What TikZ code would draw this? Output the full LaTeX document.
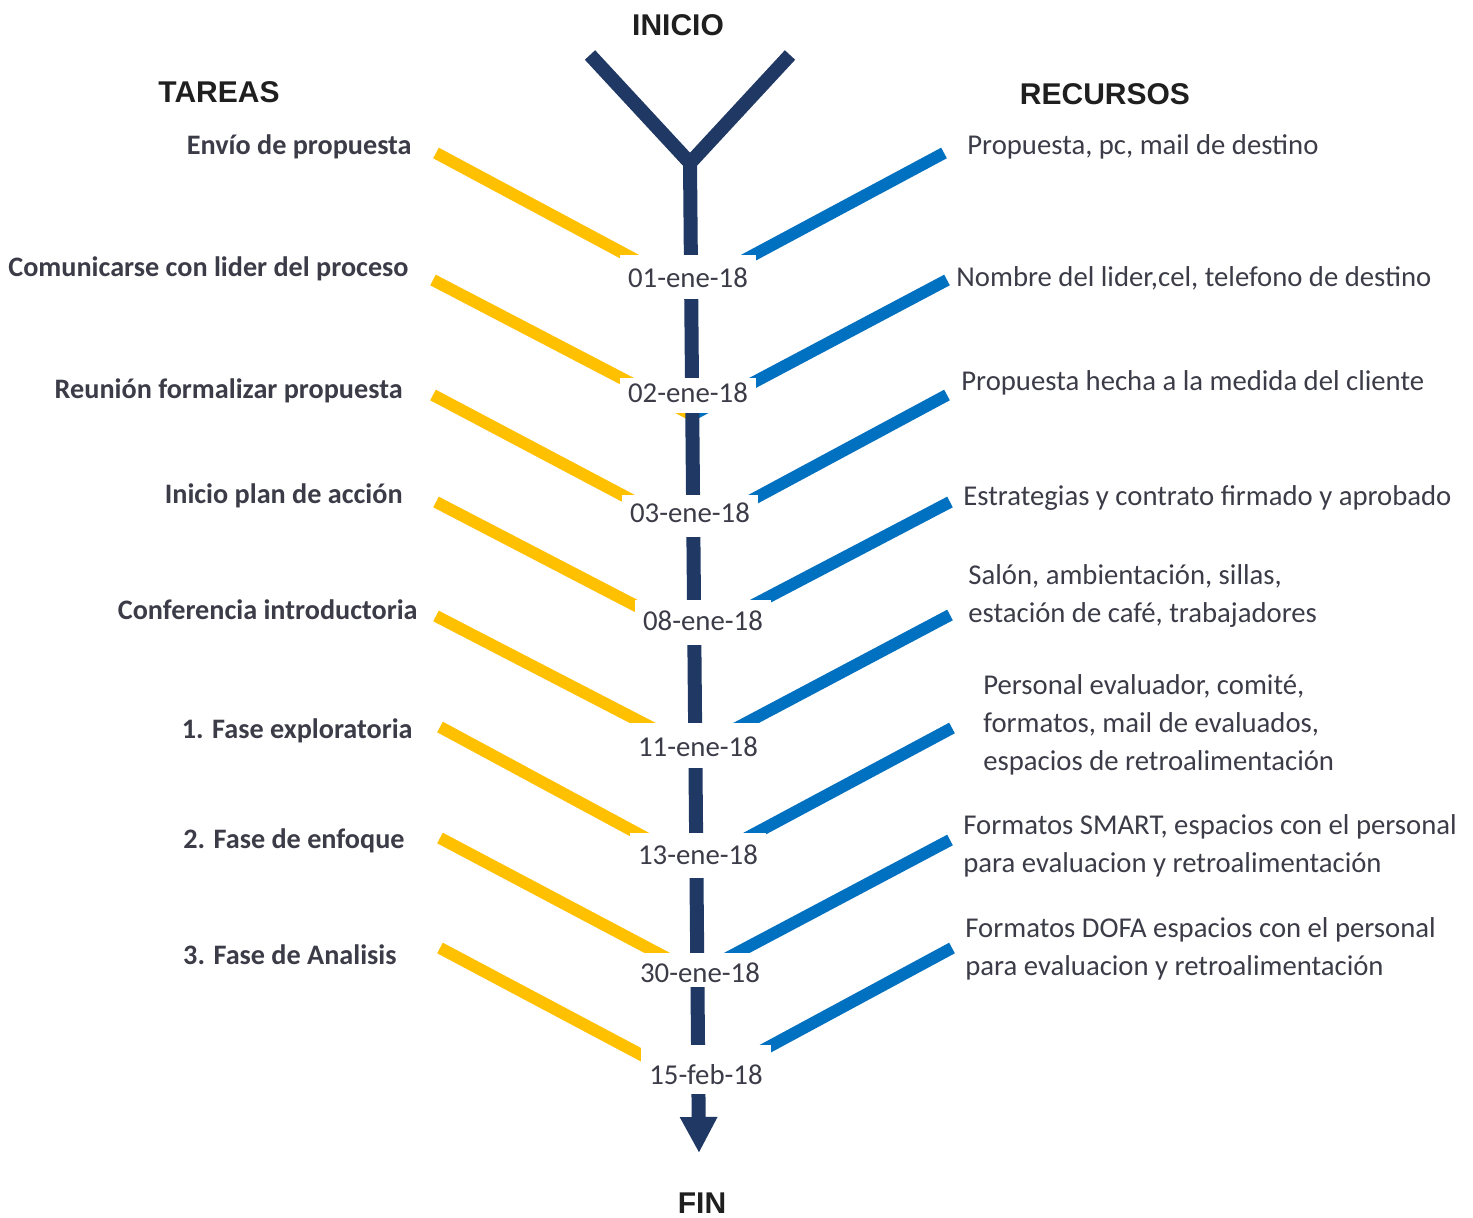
\documentclass[tikz,border=0pt]{standalone}
\usepackage{fontspec}
\setmainfont{Carlito}
\newfontfamily\headfont{Liberation Sans}
\usetikzlibrary{arrows.meta}

\definecolor{cSpine}{HTML}{1F3864}
\definecolor{cTarea}{HTML}{FFC000}
\definecolor{cRecurso}{HTML}{0070C0}
\definecolor{cTexto}{HTML}{3C3C48}

\tikzset{
  heading/.style={font=\headfont\bfseries\fontsize{15}{18}\selectfont, text=black!88, inner sep=0},
  tarealbl/.style={font=\bfseries\fontsize{14.1}{18}\selectfont, text=cTexto, inner sep=0, anchor=mid east},
  recursolbl/.style={font=\fontsize{14.35}{18.9}\selectfont, text=cTexto, inner sep=0, anchor=west, align=left},
  fecha/.style={font=\fontsize{14.4}{16}\selectfont, text=cTexto, fill=white, inner xsep=4pt, inner ysep=0, anchor=base},
  ramaT/.style={draw=cTarea, line width=6pt},
  ramaR/.style={draw=cRecurso, line width=6pt},
  eje/.style={draw=cSpine, line width=7pt},
}

\begin{document}
\begin{tikzpicture}[x=0.5pt, y=-0.5pt]
\useasboundingbox[fill=white] (0,0) rectangle (1473,1218);

% headings
\node[heading] (inicio) at (678,25) {INICIO};
\node[heading] (tareas) at (219,92) {TAREAS};
\node[heading] (recursos) at (1105,94) {RECURSOS};
\node[heading] (fin) at (702,1203) {FIN};

% fork at the top and the end of the spine
\coordinate (armL) at (590,55);
\coordinate (armR) at (790,55);
\coordinate (fork) at (690,163);
\coordinate (tip) at (699,1153);

% meeting points of the branches on the spine
\coordinate (J1) at (690,289);
\coordinate (J2) at (692,415);
\coordinate (J3) at (692,532);
\coordinate (J4) at (694,636);
\coordinate (J5) at (695,750);
\coordinate (J6) at (696,865);
\coordinate (J7) at (697,974);
\coordinate (J8) at (698,1085);

% outer ends of the task (left) branches
\coordinate (T1) at (436,153);
\coordinate (T2) at (433,280);
\coordinate (T3) at (433,395);
\coordinate (T4) at (436,502);
\coordinate (T5) at (436,616);
\coordinate (T6) at (440,727);
\coordinate (T7) at (440,838);
\coordinate (T8) at (440,948);

% outer ends of the resource (right) branches
\coordinate (R1) at (944,153);
\coordinate (R2) at (947,280);
\coordinate (R3) at (947,395);
\coordinate (R4) at (950,502);
\coordinate (R5) at (950,615);
\coordinate (R6) at (952,728);
\coordinate (R7) at (950,840);
\coordinate (R8) at (952,948);

% branches
\foreach \i in {1,...,8} {
  \draw[ramaT] (T\i) -- (J\i);
  \draw[ramaR] (R\i) -- (J\i);
}

% spine
\draw[eje, line join=miter] (armL) -- (fork) -- (armR);
\draw[eje, -{Triangle[width=17.5pt, length=18pt]}] (fork) -- (tip);

% dates on the spine (white boxes cover the joints)
\node[fecha, text height=16.5pt, text depth=5.5pt] (d1) at (688,288) {01-ene-18};
\node[fecha, text height=12.5pt, text depth=5pt]   (d2) at (688,403) {02-ene-18};
\node[fecha, text height=14pt,   text depth=7pt]   (d3) at (690,523) {03-ene-18};
\node[fecha, text height=15.5pt, text depth=7pt]   (d4) at (703,631) {08-ene-18};
\node[fecha, text height=17pt,   text depth=5.5pt] (d5) at (698,757) {11-ene-18};
\node[fecha, text height=15.5pt, text depth=7pt]   (d6) at (698,864) {13-ene-18};
\node[fecha, text height=14.5pt, text depth=2.5pt] (d7) at (700,982) {30-ene-18};
\node[fecha, text height=19.5pt, text depth=5pt]   (d8) at (706,1084) {15-feb-18};

% tasks
\node[tarealbl] (t1) at (412,150) {Envío de propuesta};
\node[tarealbl] (t2) at (409,272) {Comunicarse con lider del proceso};
\node[tarealbl] (t3) at (403,394) {Reunión formalizar propuesta};
\node[tarealbl] (t4) at (403,499) {Inicio plan de acción};
\node[tarealbl] (t5) at (418,615) {Conferencia introductoria};
\node[tarealbl] (t6) at (413,734) {1. Fase exploratoria};
\node[tarealbl] (t7) at (405,844) {2. Fase de enfoque};
\node[tarealbl] (t8) at (397,960) {3. Fase de Analisis};

% resources
\node[recursolbl] (r1) at (967,147) {Propuesta, pc, mail de destino};
\node[recursolbl] (r2) at (956,278) {Nombre del lider,cel, telefono de destino};
\node[recursolbl] (r3) at (961,383) {Propuesta hecha a la medida del cliente};
\node[recursolbl] (r4) at (963,498) {Estrategias y contrato firmado y aprobado};
\node[recursolbl] (r5) at (968,596) {Salón, ambientación, sillas,\\estación de café, trabajadores};
\node[recursolbl] (r6) at (983,725) {Personal evaluador, comité,\\formatos, mail de evaluados,\\espacios de retroalimentación};
\node[recursolbl] (r7) at (963,846) {Formatos SMART, espacios con el personal\\para evaluacion y retroalimentación};
\node[recursolbl] (r8) at (965,949) {Formatos DOFA espacios con el personal\\para evaluacion y retroalimentación};
\end{tikzpicture}
\end{document}
